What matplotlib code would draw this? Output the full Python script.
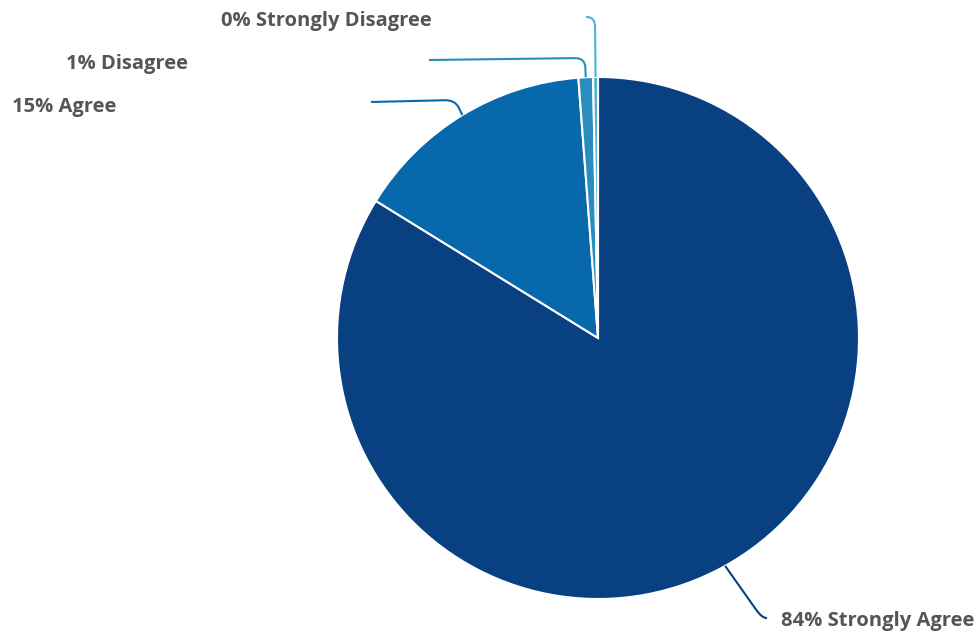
import matplotlib
matplotlib.use("Agg")
import matplotlib.pyplot as plt
import numpy as np
from matplotlib.path import Path
from matplotlib.patches import PathPatch

# Дані
categories = ['Strongly Agree', 'Agree', 'Disagree', 'Strongly Disagree']
values = [83.8, 15.0, 0.9, 0.3]
colors = ['#084081', '#0868ac', '#2b8cbe', '#4eb3d3']

W, H = 980, 634
CX, CY, R = 598, 338, 261

# розміщення підписів (пікселі): лікоть лінії, кінець лінії, позиція тексту, вирівнювання
label_layout = {
    'Strongly Agree': ((762, 618), (767, 618), (781, 621), 'left'),
    'Agree': ((455, 100), (371, 102), (116, 107), 'right'),
    'Disagree': ((585, 58), (429, 60), (188, 64), 'right'),
    'Strongly Disagree': ((595, 17), (586, 17), (432, 21), 'right'),
}


def px(x, y):
    # пікселі -> координати даних (радіус пирога = 1)
    return (x - CX) / R, (CY - y) / R


fig = plt.figure(figsize=(W / 100, H / 100), dpi=100)
ax = fig.add_axes([0, 0, 1, 1])

wedges, _ = ax.pie(values, colors=colors, startangle=90, counterclock=False,
                   radius=1, wedgeprops=dict(edgecolor='white', linewidth=1.5))
ax.set_xlim(-CX / R, (W - CX) / R)
ax.set_ylim(-(H - CY) / R, CY / R)
ax.set_aspect('equal')
ax.axis('off')

total = sum(values)
for w, cat, val, col in zip(wedges, categories, values, colors):
    mid = np.deg2rad((w.theta1 + w.theta2) / 2)
    start = np.array([np.cos(mid), np.sin(mid)])
    elbow_px, end_px, text_px, ha = label_layout[cat]
    elbow = np.array(px(*elbow_px))
    end = np.array(px(*end_px))
    d1 = start - elbow
    d2 = end - elbow
    k = 10 / R
    p1 = elbow + d1 / np.linalg.norm(d1) * min(k, np.linalg.norm(d1) * 0.5)
    p2 = elbow + d2 / np.linalg.norm(d2) * min(k, np.linalg.norm(d2) * 0.9)
    path = Path([start, p1, elbow, p2, end],
                [Path.MOVETO, Path.LINETO, Path.CURVE3, Path.CURVE3, Path.LINETO])
    ax.add_patch(PathPatch(path, facecolor='none', edgecolor=col, linewidth=1.5))
    tx, ty = px(*text_px)
    ax.text(tx, ty, f'{round(val / total * 100):.0f}% {cat}', ha=ha, va='center',
            fontsize=14.5, fontweight='bold', color='#555555', family=['Open Sans', 'DejaVu Sans'])

fig.savefig('out.png', dpi=100)
